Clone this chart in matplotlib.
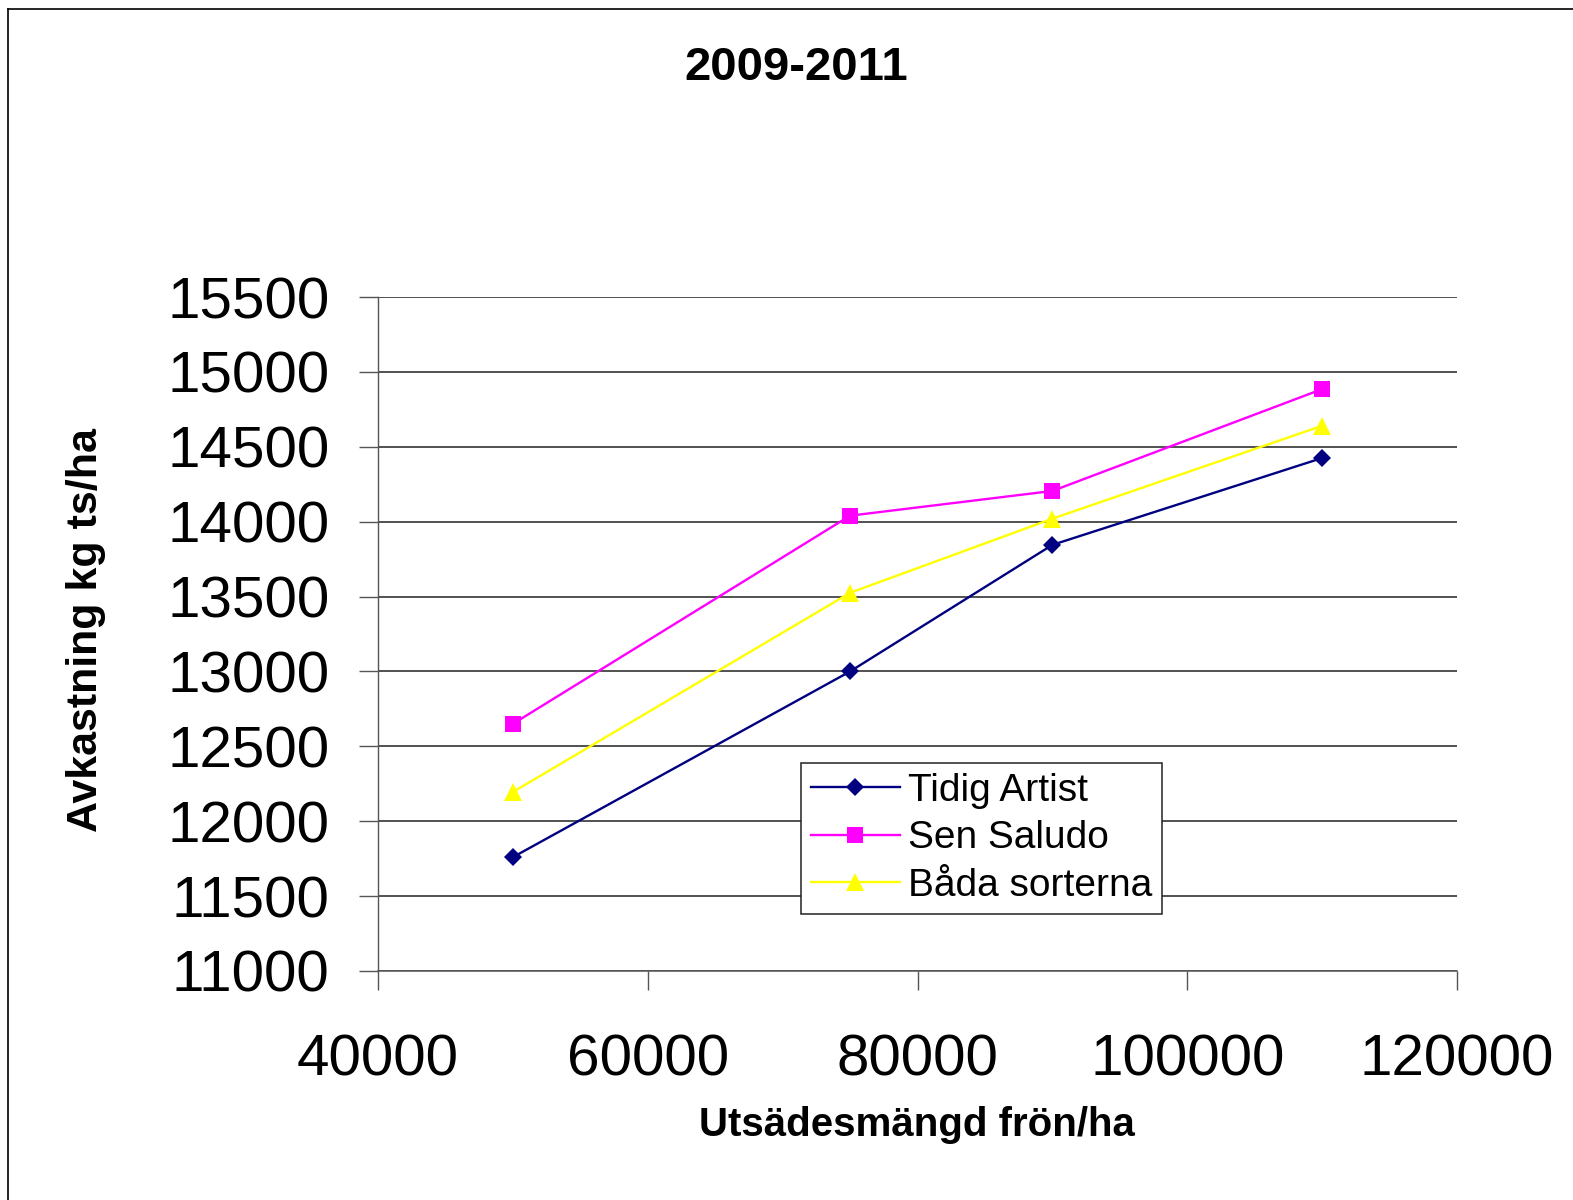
import matplotlib
matplotlib.use('Agg')
import matplotlib.pyplot as plt
from matplotlib.lines import Line2D

plt.rcParams['font.family'] = ['Liberation Sans', 'DejaVu Sans']

# data
seed_rate = [50000, 75000, 90000, 110000]
tidig_artist = [11760, 13000, 13845, 14425]
sen_saludo = [12650, 14040, 14205, 14885]
bada_sorterna = [12195, 13525, 14020, 14640]

series = [
    ('Tidig Artist', tidig_artist, '#000080', 'D', 9),
    ('Sen Saludo', sen_saludo, '#FF00FF', 's', 11),
    ('Båda sorterna', bada_sorterna, '#FFFF00', '^', 13),
]

x_ticks = [40000, 60000, 80000, 100000, 120000]
y_ticks = list(range(11000, 15501, 500))

W, H = 1573, 1200
fig = plt.figure(figsize=(W / 100, H / 100), dpi=100)
ax = fig.add_axes([378 / W, 1 - 971 / H, (1457 - 378) / W, (971 - 297) / H])

for label, vals, color, marker, ms in series:
    ax.plot(seed_rate, vals, color=color, linewidth=1.7, marker=marker,
            markersize=ms, markeredgewidth=0, label=label)

ax.set_xlim(40000, 120000)
ax.set_ylim(11000, 15500)
ax.set_xticks(x_ticks)
ax.set_yticks(y_ticks)
ax.set_xticklabels([str(v) for v in x_ticks])
ax.set_yticklabels([str(v) for v in y_ticks])
ax.tick_params(axis='both', labelsize=42, length=14, width=1, color='#555555')
ax.tick_params(axis='y', pad=21)
ax.tick_params(axis='x', pad=31)

ax.grid(True, axis='y', color='#222222', linewidth=1.1)
ax.set_axisbelow(True)
for side in ['top', 'right']:
    ax.spines[side].set_visible(False)
ax.spines['left'].set_color('#555555')
ax.spines['bottom'].set_color('#555555')
ax.spines['left'].set_linewidth(1)
ax.spines['bottom'].set_linewidth(1.1)

fig.text(796 / W, 1 - 68 / H, '2009-2011', ha='center', va='center',
         fontsize=34, fontweight='bold')
fig.text(917 / W, 1 - 1125 / H, 'Utsädesmängd frön/ha', ha='center', va='center',
         fontsize=29, fontweight='bold')
fig.text(86 / W, 1 - 630 / H, 'Avkastning kg ts/ha', ha='center', va='center',
         rotation=90, fontsize=31, fontweight='bold')

leg = ax.legend(loc='upper left', bbox_to_anchor=(801 / W, 1 - 763 / H),
                bbox_transform=fig.transFigure, borderaxespad=0,
                fontsize=28, frameon=True, fancybox=False, framealpha=1,
                handlelength=2.3, handletextpad=0.2, labelspacing=0.3,
                borderpad=0.25)
leg.get_frame().set_edgecolor('#222222')
leg.get_frame().set_linewidth(1.1)

# outer frame: only top and left edges are visible
fig.add_artist(Line2D([8 / W, 1], [1 - 9 / H, 1 - 9 / H], color='black', linewidth=1.2,
                      transform=fig.transFigure))
fig.add_artist(Line2D([8 / W, 8 / W], [0, 1 - 9 / H], color='black', linewidth=1.2,
                      transform=fig.transFigure))

fig.savefig('out.png', dpi=100)
